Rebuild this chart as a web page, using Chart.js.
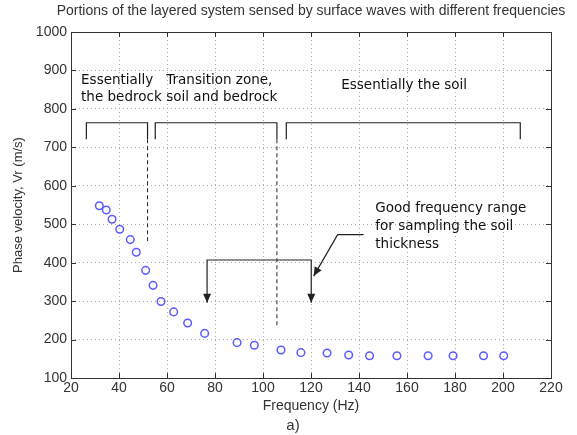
<!doctype html>
<html lang="en">
<head>
<meta charset="utf-8">
<title>Phase velocity vs frequency</title>
<script src="https://cdn.jsdelivr.net/npm/chart.js@4"></script>
<style>
  html, body { margin: 0; padding: 0; background: #fff; }
  #wrap { width: 577px; height: 435px; }
</style>
</head>
<body>
<div id="wrap"><canvas id="myChart"></canvas></div>
<script>
// measured dispersion points
var freq = [31.8, 34.7, 37.1, 40.3, 44.7, 47.2, 51.1, 54.2, 57.5, 62.8, 68.6, 75.7,
            89.2, 96.4, 107.5, 115.8, 126.7, 135.7, 144.4, 155.8, 168.8, 179.2, 191.9, 200.3]
var vel  = [548, 537, 513, 487, 460, 427, 380, 341, 299, 272, 243, 216,
            192, 185, 173, 166, 165, 160, 158, 158, 158, 158, 158, 158]

// axis ticks
var xTicks = [20, 40, 60, 80, 100, 120, 140, 160, 180, 200, 220]
var yTicks = [100, 200, 300, 400, 500, 600, 700, 800, 900, 1000]

// annotation shapes in data units (Hz, m/s)
var bracketBedrock    = [[26.4, 721], [26.4, 764], [51.9, 764], [51.9, 721]]
var bracketTransition = [[55.1, 721], [55.1, 764], [105.8, 764], [105.8, 721]]
var bracketSoil       = [[109.7, 721], [109.7, 764], [207.2, 764], [207.2, 721]]
var dashBedrock       = [[51.9, 721], [51.9, 456]]
var dashSoil          = [[105.8, 721], [105.8, 232]]
var rangeArrow        = [[76.7, 296], [76.7, 407], [120.1, 407], [120.1, 296]]
var pointerArrow      = [[141.9, 473], [131.1, 473], [121.1, 365]]

var textTitle = 'Portions of the layered system sensed by surface waves with different frequencies'
// first-line baseline anchor in data units
var labels = [
  { lines: ['Essentially', 'the bedrock'], at: [24.2, 865], step: 17 },
  { lines: ['Transition zone,', 'soil and bedrock'], at: [59.7, 865], step: 17 },
  { lines: ['Essentially the soil'], at: [132.6, 851], step: 17 },
  { lines: ['Good frequency range', 'for sampling the soil', 'thickness'], at: [146.8, 531], step: 18 }
]

function pts(a) { return a.map(function (p) { return { x: p[0], y: p[1] } }) }

var ink = '#222'
function shape(data, extra) {
  var d = { data: pts(data), showLine: true, pointRadius: 0, borderColor: ink,
            borderWidth: 1.2, fill: false, tension: 0 }
  for (var k in extra) d[k] = extra[k]
  return d
}

var annotFont = '13.5px "DejaVu Sans"'

var decor = {
  id: 'decor',
  afterDatasetsDraw: function (chart) {
    var ctx = chart.ctx, a = chart.chartArea
    var xs = chart.scales.x, ys = chart.scales.y
    ctx.save()
    // arrow heads
    chart.data.datasets.forEach(function (ds, i) {
      if (!ds.arrows) return
      var el = chart.getDatasetMeta(i).data
      ds.arrows.forEach(function (end) {
        var tip, from
        if (end === 'start') { tip = el[0]; from = el[1] } else { tip = el[el.length - 1]; from = el[el.length - 2] }
        var ang = Math.atan2(tip.y - from.y, tip.x - from.x)
        var len = 9, half = 4
        ctx.beginPath()
        ctx.moveTo(tip.x, tip.y)
        ctx.lineTo(tip.x - len * Math.cos(ang) + half * Math.sin(ang), tip.y - len * Math.sin(ang) - half * Math.cos(ang))
        ctx.lineTo(tip.x - len * Math.cos(ang) - half * Math.sin(ang), tip.y - len * Math.sin(ang) + half * Math.cos(ang))
        ctx.closePath()
        ctx.fillStyle = ink
        ctx.fill()
      })
    })
    // annotation text
    ctx.fillStyle = '#111'
    ctx.font = annotFont
    ctx.textAlign = 'left'
    ctx.textBaseline = 'alphabetic'
    labels.forEach(function (l) {
      var x = xs.getPixelForValue(l.at[0]), y = ys.getPixelForValue(l.at[1])
      l.lines.forEach(function (t, j) { ctx.fillText(t, x, y + j * l.step) })
    })
    // frame
    ctx.strokeStyle = '#333'
    ctx.lineWidth = 1
    ctx.strokeRect(Math.round(a.left) + 0.5, Math.round(a.top) + 0.5, Math.round(a.right - a.left), Math.round(a.bottom - a.top))
    // inward tick marks
    ctx.beginPath()
    xTicks.forEach(function (v) {
      var px = Math.round(xs.getPixelForValue(v)) + 0.5
      ctx.moveTo(px, a.bottom); ctx.lineTo(px, a.bottom - 5)
      ctx.moveTo(px, a.top); ctx.lineTo(px, a.top + 5)
    })
    yTicks.forEach(function (v) {
      var py = Math.round(ys.getPixelForValue(v)) + 0.5
      ctx.moveTo(a.left, py); ctx.lineTo(a.left + 5, py)
      ctx.moveTo(a.right, py); ctx.lineTo(a.right - 5, py)
    })
    ctx.stroke()
    // title and panel letter
    ctx.fillStyle = '#333'
    ctx.font = '14px "Liberation Sans", Arial, sans-serif'
    ctx.textAlign = 'center'
    ctx.fillText(textTitle, (a.left + a.right) / 2, 15)
    ctx.font = '15px "Liberation Sans", Arial, sans-serif'
    ctx.fillText('a)', (a.left + a.right) / 2 - 18, 430)
    ctx.restore()
  }
}

var tickFont = { family: '"Liberation Sans", Arial, sans-serif', size: 14 }
var plain = function (v) { return String(v) }

new Chart(document.getElementById('myChart'), {
  type: 'scatter',
  data: {
    datasets: [
      { label: 'Measured', data: freq.map(function (f, i) { return { x: f, y: vel[i] } }),
        pointStyle: 'circle', pointRadius: 3.8, pointBorderWidth: 1.5,
        borderColor: '#5b5bff', backgroundColor: 'rgba(0,0,0,0)', showLine: false },
      shape(bracketBedrock),
      shape(bracketTransition),
      shape(bracketSoil),
      shape(dashBedrock, { borderDash: [4, 3], borderWidth: 1 }),
      shape(dashSoil, { borderDash: [4, 3], borderWidth: 1 }),
      shape(rangeArrow, { arrows: ['start', 'end'] }),
      shape(pointerArrow, { arrows: ['end'] })
    ]
  },
  options: {
    responsive: true,
    maintainAspectRatio: false,
    animation: false,
    layout: { padding: { left: 0, right: 26, top: 32, bottom: 0 } },
    plugins: { legend: { display: false }, tooltip: { enabled: false } },
    scales: {
      x: {
        type: 'linear', min: 20, max: 220,
        afterBuildTicks: function (s) { s.ticks = xTicks.map(function (v) { return { value: v } }) },
        afterFit: function (s) { s.height = 57 },
        ticks: { color: '#333', font: tickFont, padding: 2, maxRotation: 0, callback: plain },
        grid: { color: '#aaa', lineWidth: 1, drawTicks: false },
        border: { display: false, dash: [1, 3] },
        title: { display: true, text: 'Frequency (Hz)', color: '#333', font: { family: tickFont.family, size: 14 }, padding: { top: 0, bottom: 20 } }
      },
      y: {
        type: 'linear', min: 100, max: 1000,
        afterBuildTicks: function (s) { s.ticks = yTicks.map(function (v) { return { value: v } }) },
        afterFit: function (s) { s.width = 71 },
        ticks: { color: '#333', font: tickFont, padding: 4, callback: plain },
        grid: { color: '#aaa', lineWidth: 1, drawTicks: false },
        border: { display: false, dash: [1, 3] },
        title: { display: true, text: 'Phase velocity, Vr (m/s)', color: '#333', font: { family: tickFont.family, size: 13 }, padding: { top: 11, bottom: 0 } }
      }
    }
  },
  plugins: [decor]
})
</script>
</body>
</html>
